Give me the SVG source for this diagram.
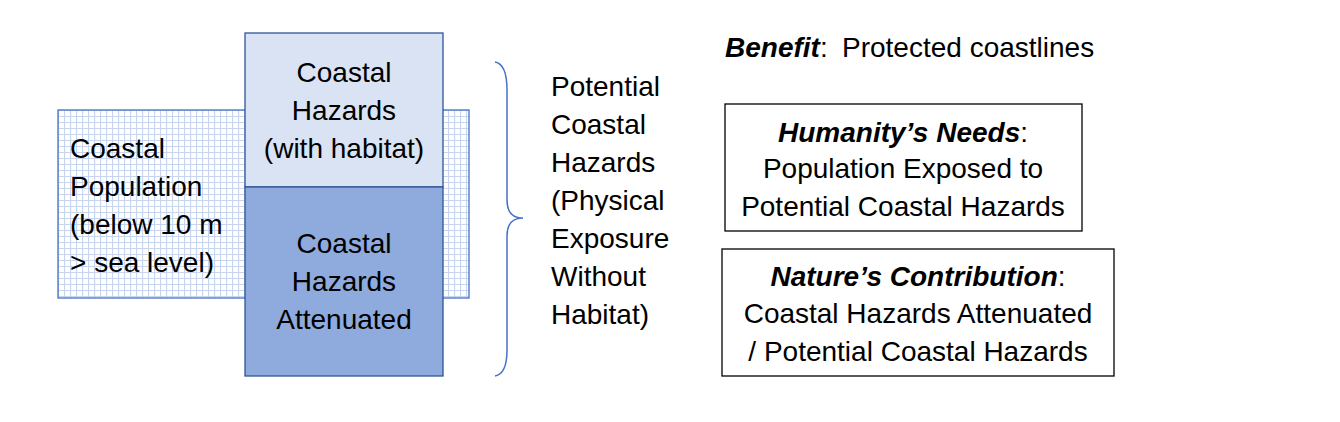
<svg xmlns="http://www.w3.org/2000/svg" width="1340" height="422" viewBox="0 0 1340 422">
<style>
text{font-family:"Liberation Sans",Arial,sans-serif;font-size:28px;fill:#000}
.c{text-anchor:middle}
.bi{font-weight:bold;font-style:italic}
.box{fill:#fff;stroke:#000;stroke-width:1.3}
</style>
<defs>
<pattern id="grid" width="6" height="6" patternUnits="userSpaceOnUse" x="58" y="110">
<rect width="6" height="6" fill="#fff"/>
<path d="M0 0.5H6M0.5 0V6" stroke="#c8d5ef" stroke-width="1.2" fill="none"/>
</pattern>
</defs>
<rect width="1340" height="422" fill="#fff"/>
<g id="population">
<rect x="58" y="110" width="411" height="188" fill="url(#grid)" stroke="#4472c4" stroke-width="1.3"/>
<text x="70" y="158">Coastal</text>
<text x="70" y="196">Population</text>
<text x="70" y="234">(below 10 m</text>
<text x="70" y="272">&gt; sea level)</text>
</g>
<g id="hazards-with-habitat">
<rect x="245" y="33" width="198" height="154" fill="#dae3f3" stroke="#2f5597" stroke-width="1.3"/>
<text class="c" x="344" y="82">Coastal</text>
<text class="c" x="344" y="120">Hazards</text>
<text class="c" x="344" y="158">(with habitat)</text>
</g>
<g id="hazards-attenuated">
<rect x="245" y="187" width="198" height="189" fill="#8faadc" stroke="#2f5597" stroke-width="1.3"/>
<text class="c" x="344" y="253">Coastal</text>
<text class="c" x="344" y="291">Hazards</text>
<text class="c" x="344" y="329">Attenuated</text>
</g>
<g id="connectors">
<path d="M495 62 Q507 64 507 90 V200 Q507 218 523 218 Q507 218 507 236 V350 Q507 374 495 376" fill="none" stroke="#4472c4" stroke-width="1.5"/>
</g>
<g id="potential">
<text x="551" y="96">Potential</text>
<text x="551" y="134">Coastal</text>
<text x="551" y="172">Hazards</text>
<text x="551" y="210">(Physical</text>
<text x="551" y="248">Exposure</text>
<text x="551" y="286">Without</text>
<text x="551" y="324">Habitat)</text>
</g>
<g id="benefit">
<text x="725" y="57"><tspan class="bi">Benefit</tspan>:<tspan x="842">Protected coastlines</tspan></text>
</g>
<g id="humanity-needs">
<rect class="box" x="725" y="104" width="357" height="127"/>
<text class="c" x="903" y="142"><tspan class="bi">Humanity’s Needs</tspan>:</text>
<text class="c" x="903" y="178">Population Exposed to</text>
<text class="c" x="903" y="216">Potential Coastal Hazards</text>
</g>
<g id="nature-contribution">
<rect class="box" x="722" y="249" width="392" height="127"/>
<text class="c" x="918" y="286"><tspan class="bi">Nature’s Contribution</tspan>:</text>
<text class="c" x="918" y="323">Coastal Hazards Attenuated</text>
<text class="c" x="918" y="361">/ Potential Coastal Hazards</text>
</g>
</svg>
